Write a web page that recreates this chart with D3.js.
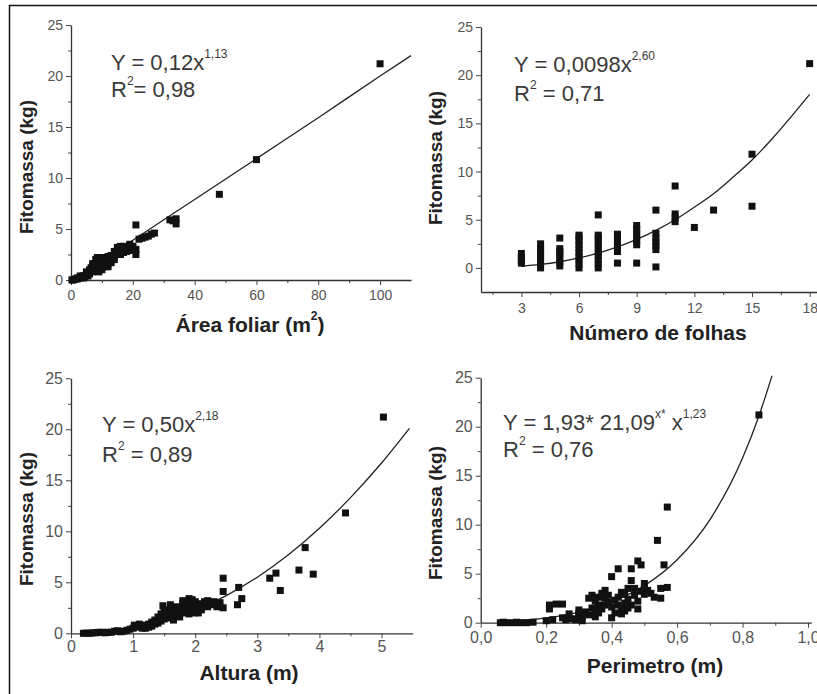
<!DOCTYPE html>
<html>
<head>
<meta charset="utf-8">
<script src="https://cdn.jsdelivr.net/npm/d3@7"></script>
<style>
body { margin: 0; background: #fff; }
svg { display: block; font-family: "Liberation Sans", Arial, sans-serif; }
</style>
</head>
<body>
<div id="viz"></div>
<script>

// ---- data ----
let yTicks = [0, 5, 10, 15, 20, 25]
let yMinor = [2.5, 7.5, 12.5, 17.5, 22.5]

// Área foliar (m2) vs fitomassa (kg)
let areaTicks = [0, 20, 40, 60, 80, 100]
let areaMinor = [10, 30, 50, 70, 90]
let areaPts = [[0.3,0],[0.6,0],[1,0.05],[1.5,0.1],[2,0.1],[2,0.2],[2.5,0.2],[3,0.2],[3,0.4],[3.5,0.3],[4,0.4],
	[4,0.2],[4.5,0.3],[5,0.5],[5,0.8],[5.5,0.7],[5.5,0.4],[6,0.6],[6,1.0],[6.5,0.9],[6.5,1.2],[7,1.3],
	[7,0.8],[7,1.6],[7.5,1.1],[7.5,1.6],[8,1.5],[8,2.0],[8,1.2],[8.5,1.7],[8.5,2.2],[9,2.1],[9,1.2],
	[9,0.8],[9.5,1.8],[9.5,1.4],[10,1.9],[10,1.5],[10,1.0],[10,2.2],[10.5,2.0],[11,1.8],[11,1.3],
	[11,1.6],[11,2.2],[12,2.0],[12,1.6],[12,2.3],[12,1.3],[13,1.7],[13,2.0],[13,2.4],[14,2.3],[14,2.8],
	[14,2.0],[15,3.2],[15,2.6],[15,2.9],[16,2.5],[16,3.0],[16,3.3],[17,3.0],[17,2.7],[17,3.3],[18,3.2],
	[18,2.8],[19,3.5],[19,3.0],[19,3.3],[20,3.3],[20,3.2],[20,2.9],[21,3.0],[21,2.5],[21,5.4],[22,4.0],
	[23,4.1],[24,4.2],[25,4.3],[26,4.5],[27,4.6],[32,5.9],[33,5.8],[34,6.0],[34,5.5],[48,8.4],[60,11.8],
	[100,21.2]]
let areaFit = [[0,0],[20,3.9],[40,7.9],[60,11.9],[80,15.9],[100,20.0],[110,22.0]]

// Número de folhas vs fitomassa
let folhasTicks = [3, 6, 9, 12, 15, 18]
let folhasMinor = [1.5, 4.5, 7.5, 10.5, 13.5, 16.5]
let folhasPts = [[3,0.5],[3,0.8],[3,1.1],[3,1.5],
	[4,0],[4,0.4],[4,0.8],[4,1.2],[4,1.6],[4,2.0],[4,2.5],
	[5,0.2],[5,0.6],[5,1.0],[5,1.4],[5,1.7],[5,2.0],[5,3.1],
	[6,0],[6,0.4],[6,0.8],[6,1.2],[6,1.6],[6,2.0],[6,2.4],[6,2.8],[6,3.2],[6,3.4],
	[7,0],[7,0.4],[7,0.8],[7,1.2],[7,1.6],[7,2.0],[7,2.4],[7,2.8],[7,3.2],[7,3.4],[7,5.5],
	[8,0.5],[8,1.7],[8,2.1],[8,2.5],[8,2.9],[8,3.3],[8,3.5],
	[9,0.5],[9,2.4],[9,2.8],[9,3.2],[9,3.6],[9,4.0],[9,4.4],
	[10,0.1],[10,1.9],[10,2.3],[10,2.7],[10,3.1],[10,3.6],[10,6.0],
	[11,4.8],[11,5.2],[11,5.6],[11,8.5],[12,4.2],[13,6.0],[15,6.4],[15,11.8],[18,21.2]]
let folhasFit = [[3,0.17],[4,0.36],[5,0.64],[6,1.03],[7,1.54],[8,2.18],[9,2.96],[10,3.9],[11,5.0],
	[12,6.3],[13,7.7],[14,9.4],[15,11.2],[16,13.3],[17,15.6],[18,18.0]]

// Altura (m) vs fitomassa
let alturaTicks = [0, 1, 2, 3, 4, 5]
let alturaMinor = [0.5, 1.5, 2.5, 3.5, 4.5]
let alturaPts = [[0.2,0],[0.25,0.02],[0.3,0],[0.35,0.05],[0.4,0.05],[0.45,0.1],[0.5,0.1],[0.55,0.05],
	[0.6,0.1],[0.65,0.1],[0.7,0.2],[0.75,0.25],[0.8,0.15],[0.85,0.2],[0.9,0.3],[0.95,0.4],[1.0,0.5],
	[1.02,0.8],[1.05,0.7],[1.1,0.6],[1.1,0.9],[1.15,0.8],[1.15,0.5],[1.2,0.5],[1.25,0.9],[1.25,0.6],
	[1.3,1.1],[1.3,0.7],[1.35,1.3],[1.35,0.9],[1.4,1.6],[1.4,1.0],[1.45,1.9],[1.45,1.2],[1.48,2.7],
	[1.5,2.3],[1.5,1.4],[1.55,1.7],[1.55,2.1],[1.6,2.4],[1.6,1.5],[1.6,2.8],[1.65,2.0],[1.65,1.3],
	[1.7,2.6],[1.7,1.8],[1.75,2.2],[1.75,1.6],[1.8,2.9],[1.8,3.2],[1.8,2.5],[1.85,2.4],[1.85,2.0],
	[1.9,3.4],[1.9,2.8],[1.9,1.9],[1.95,3.0],[1.95,2.2],[1.95,3.3],[2.0,2.5],[2.0,3.1],[2.0,2.0],
	[2.05,2.0],[2.05,2.7],[2.1,2.9],[2.1,2.3],[2.15,3.1],[2.2,2.6],[2.2,3.2],[2.25,3.0],[2.3,2.8],
	[2.3,3.1],[2.35,2.6],[2.35,2.9],[2.4,3.0],[2.45,2.5],[2.45,4.1],[2.45,5.4],[2.68,2.8],[2.7,4.5],
	[2.75,3.4],[3.2,5.4],[3.3,5.9],[3.37,4.2],[3.67,6.2],[3.77,8.4],[3.9,5.8],[4.42,11.8],[5.03,21.2]]
let alturaFit = [[0.2,0.02],[0.5,0.11],[1,0.5],[1.5,1.21],[2,2.27],[2.5,3.7],[3,5.5],[3.5,7.7],
	[4,10.3],[4.5,13.3],[5,16.7],[5.45,20.1]]

// Perímetro (m) vs fitomassa
let perimTicks = [0, 0.2, 0.4, 0.6, 0.8, 1.0]
let perimMinor = [0.1, 0.3, 0.5, 0.7, 0.9]
let perimPts = [[0.06,0],[0.07,0.05],[0.08,0],[0.1,0],[0.11,0.05],[0.12,0],[0.14,0],[0.16,0.05],
	[0.2,0.2],[0.21,1.4],[0.21,1.8],[0.23,1.9],[0.25,1.9],[0.22,0.3],[0.25,0.5],[0.26,0.3],[0.27,0.9],
	[0.28,0.4],[0.29,0.3],[0.3,0.7],[0.3,1.0],[0.3,1.3],[0.31,0.5],[0.31,0.2],[0.32,1.1],[0.33,2.5],
	[0.33,0.8],[0.34,2.8],[0.34,1.5],[0.35,2.2],[0.35,1.2],[0.35,0.6],[0.36,1.8],[0.36,2.6],[0.36,1.0],
	[0.37,3.0],[0.37,1.4],[0.38,2.5],[0.38,3.3],[0.38,1.8],[0.39,2.1],[0.39,2.8],[0.4,0.5],[0.4,4.7],
	[0.4,1.6],[0.41,1.0],[0.41,2.3],[0.42,2.6],[0.42,5.5],[0.42,1.8],[0.43,1.5],[0.43,3.1],[0.43,0.9],
	[0.44,2.0],[0.44,1.2],[0.44,2.9],[0.45,3.5],[0.45,2.4],[0.45,1.5],[0.46,5.5],[0.46,4.3],[0.46,1.8],
	[0.47,2.8],[0.47,3.5],[0.48,1.4],[0.48,6.3],[0.48,2.2],[0.49,5.9],[0.49,3.2],[0.5,4.0],[0.5,2.9],
	[0.5,3.5],[0.51,3.3],[0.52,3.0],[0.53,2.6],[0.54,8.4],[0.55,2.5],[0.55,3.5],[0.56,5.9],[0.57,3.6],
	[0.57,11.8],[0.85,21.2]]
let perimFit = [[0.06,0.07],[0.1,0.15],[0.2,0.49],[0.3,1.09],[0.4,2.12],[0.5,3.78],[0.6,6.42],
	[0.7,10.5],[0.8,16.8],[0.85,21.1],[0.89,25.2]]

// equations: [text, superscript?]
let areaEq = [[['Y = 0,12x',0],['1,13',1]], [['R',0],['2',1],['= 0,98',0]]]
let folhasEq = [[['Y = 0,0098x',0],['2,60',1]], [['R',0],['2',1],[' = 0,71',0]]]
let alturaEq = [[['Y = 0,50x',0],['2,18',1]], [['R',0],['2',1],[' = 0,89',0]]]
let perimEq = [[['Y = 1,93* 21,09',0],['x*',1],[' x',0],['1,23',1]], [['R',0],['2',1],[' = 0,76',0]]]

let svg = d3.select('#viz')
			.append('svg')
			.attr('width', 817)
			.attr('height', 694)

// outer frame (only top and left visible)
svg.append('path')
	.attr('d', 'M9.5,700V5.5H830')
	.attr('fill', 'none')
	.attr('stroke', '#111')
	.attr('stroke-width', 1.5)

let comma = d => String(d).replace('.', ',')
let oneDec = d => d3.format('.1f')(d).replace('.', ',')

let panels = [
	{pts: areaPts, fit: areaFit, xDom: [0, 110], xRange: [71, 411], yDom: [0, 25], yRange: [280, 25],
		xTicks: areaTicks, xMinor: areaMinor, fmt: comma, tickFont: 14, xPad: 5,
		xTitle: [['Área foliar (m',0],['2',1],[')',0]], xtx: 250, xty: 332, ytx: 26, yty: 167,
		eq: areaEq, ex: 111, ey: [70, 97]},
	{pts: folhasPts, fit: folhasFit, xDom: [0.9, 19.5], xRange: [481, 838.5], yDom: [-2.5, 25], yRange: [292, 27],
		xTicks: folhasTicks, xMinor: folhasMinor, fmt: comma, tickFont: 14, xPad: 6,
		xTitle: [['Número de folhas',0]], xtx: 658, xty: 340, ytx: 435, yty: 158,
		eq: folhasEq, ex: 514, ey: [72, 101]},
	{pts: alturaPts, fit: alturaFit, xDom: [0, 5.5], xRange: [71, 412.6], yDom: [0, 25], yRange: [633.3, 378.3],
		xTicks: alturaTicks, xMinor: alturaMinor, fmt: comma, tickFont: 16, xPad: 2,
		xTitle: [['Altura (m)',0]], xtx: 249, xty: 680, ytx: 26, yty: 519,
		eq: alturaEq, ex: 102, ey: [432, 462]},
	{pts: perimPts, fit: perimFit, xDom: [0, 1.01], xRange: [480.7, 811.3], yDom: [0, 25], yRange: [622.7, 377.7],
		xTicks: perimTicks, xMinor: perimMinor, fmt: oneDec, tickFont: 16, xPad: 4,
		xTitle: [['Perimetro (m)',0]], xtx: 655, xty: 673, ytx: 435, yty: 513,
		eq: perimEq, ex: 503, ey: [430, 457]}
]

panels.forEach(drawPanel)

// text with superscript parts; baseline shift is undone on the following part
function addRich(sel, parts, supSize) {
	let raised = false
	parts.forEach(p => {
		let t = sel.append('tspan').text(p[0])
		if (p[1]) {
			t.attr('dy', -supSize).attr('font-size', supSize)
			raised = true
		} else if (raised) {
			t.attr('dy', supSize)
			raised = false
		}
	})
}

function drawPanel(p) {
	let g = svg.append('g')
	let x = d3.scaleLinear().domain(p.xDom).range(p.xRange)
	let y = d3.scaleLinear().domain(p.yDom).range(p.yRange)
	let y0 = p.yRange[0]
	let x0 = p.xRange[0]

	// minor ticks
	g.append('g')
		.attr('transform', `translate(0,${y0})`)
		.call(d3.axisBottom(x).tickValues(p.xMinor).tickSize(3).tickFormat(''))
		.call(a => a.select('.domain').remove())
	g.append('g')
		.attr('transform', `translate(${x0},0)`)
		.call(d3.axisLeft(y).tickValues(yMinor).tickSize(3).tickFormat(''))
		.call(a => a.select('.domain').remove())

	// major axes
	g.append('g')
		.attr('transform', `translate(0,${y0})`)
		.call(d3.axisBottom(x).tickValues(p.xTicks).tickSize(5).tickSizeOuter(0).tickPadding(p.xPad).tickFormat(p.fmt))
	g.append('g')
		.attr('transform', `translate(${x0},0)`)
		.call(d3.axisLeft(y).tickValues(yTicks).tickSize(5).tickSizeOuter(0).tickPadding(3))

	g.selectAll('.tick line').attr('stroke', '#444')
	g.selectAll('.domain').attr('stroke', '#333').attr('stroke-width', 1.3)
	g.selectAll('.tick text')
		.attr('fill', '#555')
		.attr('font-size', p.tickFont)
		.attr('font-family', '"Liberation Sans", Arial, sans-serif')

	// fitted curve
	g.append('path')
		.datum(p.fit)
		.attr('d', d3.line().x(d => x(d[0])).y(d => y(d[1])).curve(d3.curveMonotoneX))
		.attr('fill', 'none')
		.attr('stroke', '#222')
		.attr('stroke-width', 1.3)

	// observations
	g.selectAll('rect.pt')
		.data(p.pts)
		.enter()
		.append('rect')
		.attr('class', 'pt')
		.attr('x', d => x(d[0]) - 3.5)
		.attr('y', d => y(d[1]) - 3.5)
		.attr('width', 7)
		.attr('height', 7)
		.attr('fill', '#111')

	// axis titles
	let xt = g.append('text')
		.attr('x', p.xtx)
		.attr('y', p.xty)
		.attr('text-anchor', 'middle')
		.attr('font-weight', 'bold')
		.attr('font-size', 21)
		.attr('fill', '#222')
	addRich(xt, p.xTitle, 12)

	g.append('text')
		.attr('transform', `translate(${p.ytx},${p.yty}) rotate(-90)`)
		.attr('dy', '0.35em')
		.attr('text-anchor', 'middle')
		.attr('font-weight', 'bold')
		.attr('font-size', 19)
		.attr('fill', '#222')
		.text('Fitomassa (kg)')

	// equation
	p.eq.forEach((line, i) => {
		let t = g.append('text')
			.attr('x', p.ex)
			.attr('y', p.ey[i])
			.attr('font-size', 22)
			.attr('fill', '#3a3a3a')
		addRich(t, line, 12)
	})
}
</script>
</body>
</html>
